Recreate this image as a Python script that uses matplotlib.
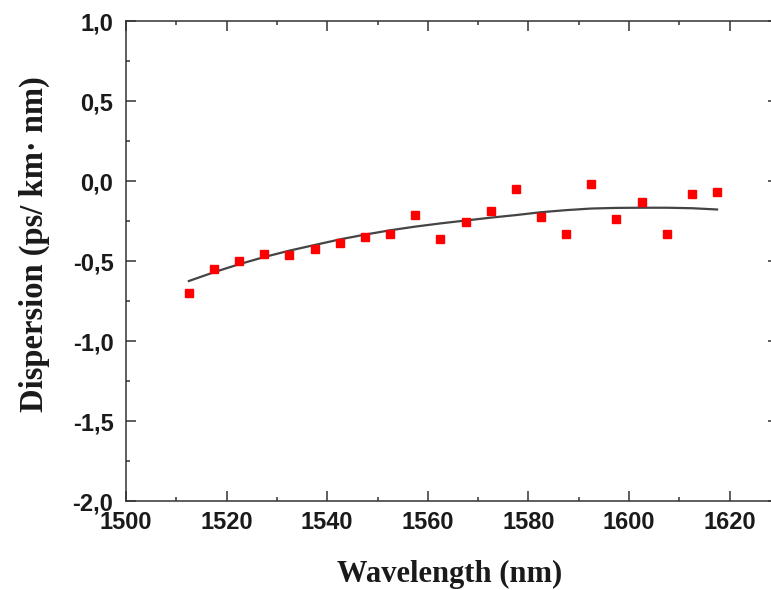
import numpy as np
import matplotlib
matplotlib.use('Agg')
import matplotlib.pyplot as plt
from matplotlib.ticker import MultipleLocator, FuncFormatter


# measured dispersion (red squares)
wavelength = [1512.5, 1517.5, 1522.5, 1527.5, 1532.5, 1537.5, 1542.5, 1547.5,
              1552.5, 1557.5, 1562.5, 1567.5, 1572.5, 1577.5, 1582.5, 1587.5,
              1592.5, 1597.5, 1602.5, 1607.5, 1612.5, 1617.5]
dispersion = [-0.703, -0.547, -0.497, -0.459, -0.463, -0.422, -0.390, -0.353,
              -0.330, -0.213, -0.361, -0.255, -0.189, -0.053, -0.224, -0.332,
              -0.021, -0.240, -0.134, -0.330, -0.082, -0.071]

# fitted curve (black line), read at the same wavelengths
fit = [-0.625, -0.570, -0.520, -0.475, -0.435, -0.400, -0.365, -0.335,
       -0.308, -0.285, -0.265, -0.247, -0.229, -0.213, -0.195, -0.182,
       -0.172, -0.168, -0.167, -0.167, -0.170, -0.178]

x_ticks = [1500, 1520, 1540, 1560, 1580, 1600, 1620]
y_ticks = [-2.0, -1.5, -1.0, -0.5, 0.0, 0.5, 1.0]


def comma(v, pos):
    # european decimal comma, e.g. -0,5
    return f"{v:.1f}".replace('.', ',')


fig = plt.figure(figsize=(7.71, 5.90), dpi=100)
ax = fig.add_axes([0.1634, 0.1508, 0.8384, 0.8136])

ax.plot(wavelength, fit, color='#444444', lw=1.6, zorder=2)
ax.plot(wavelength, dispersion, 's', color='#ff0000', ms=5.8, mec='#ff0000', zorder=3)

ax.set_xlim(1500, 1628.5)
ax.set_ylim(-2.0, 1.0)
ax.set_xticks(x_ticks)
ax.set_yticks(y_ticks)
ax.xaxis.set_minor_locator(MultipleLocator(10))
ax.yaxis.set_minor_locator(MultipleLocator(0.25))
ax.yaxis.set_major_formatter(FuncFormatter(comma))

for s in ax.spines.values():
    s.set_linewidth(1.1)
    s.set_color('#333333')
ax.spines['right'].set_visible(False)

ax.tick_params(which='both', direction='in', top=True, right=False,
               width=1.1, color='#333333')
ax.tick_params(which='major', length=7)
ax.tick_params(which='minor', length=3)
ax.tick_params(axis='y', pad=9)
ax.tick_params(axis='x', pad=7)

# right side: only short major ticks
sec = ax.secondary_yaxis('right')
sec.set_yticks(y_ticks)
sec.tick_params(direction='in', length=3, width=1.1, color='#333333',
                labelright=False)
sec.spines['right'].set_linewidth(1.1)
sec.spines['right'].set_color('#333333')

for lab in ax.get_xticklabels() + ax.get_yticklabels():
    lab.set_fontfamily('Liberation Sans')
    lab.set_fontweight('bold')
    lab.set_fontsize(17)
    lab.set_color('#1a1a1a')

ax.set_xlabel('Wavelength (nm)', family='Liberation Serif', weight='bold',
              fontsize=22, labelpad=19, color='#1a1a1a')
ax.set_ylabel('Dispersion (ps/ km\u00b7 nm)', family='Liberation Serif',
              weight='bold', fontsize=23.5, color='#1a1a1a')
ax.yaxis.set_label_coords(-0.118, 0.535)

fig.savefig('out.png', dpi=100)
